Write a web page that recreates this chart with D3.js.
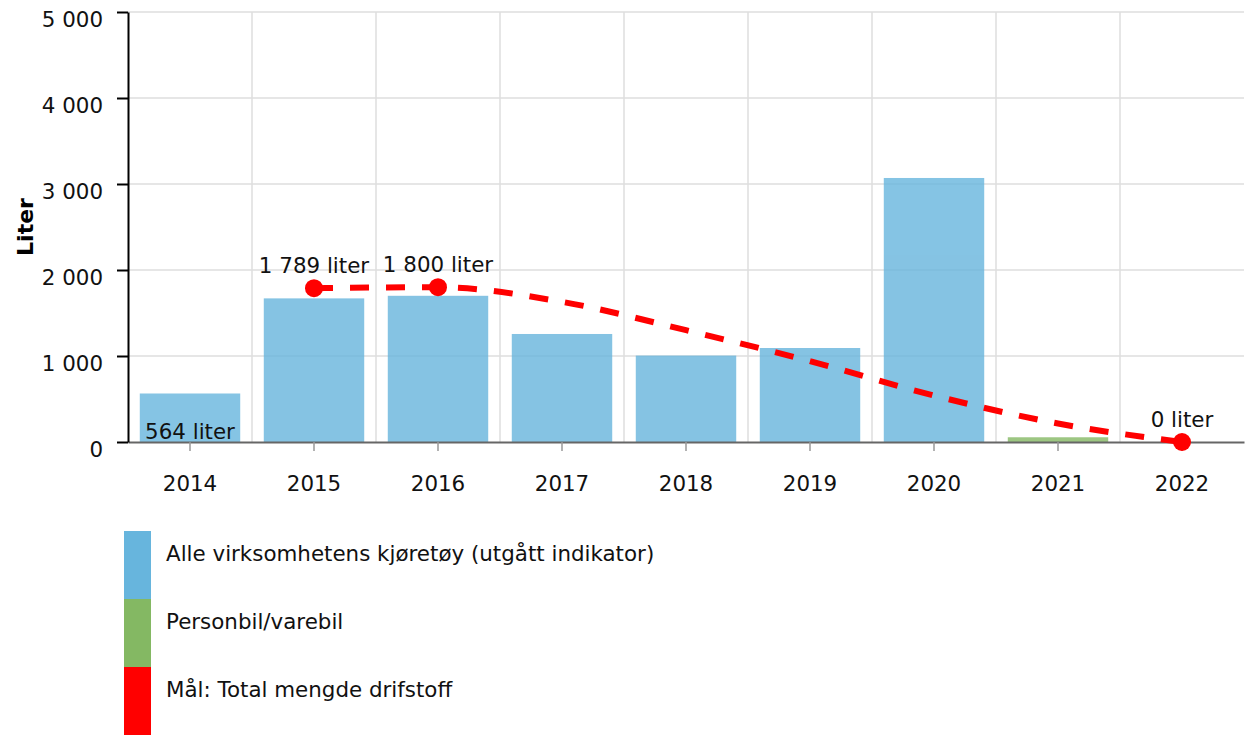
<!DOCTYPE html>
<html>
<head>
<meta charset="utf-8">
<script src="https://cdn.jsdelivr.net/npm/d3@7"></script>
<style>
    body { margin: 0; background: #fff; }
    svg { display: block; font-family: "DejaVu Sans", Verdana, sans-serif; }
</style>
</head>
<body>
<svg id="chart"></svg>
<script>
const years = ['2014', '2015', '2016', '2017', '2018', '2019', '2020', '2021', '2022'];
const allVehicles = [564, 1670, 1700, 1256, 1005, 1093, 3070, 0, 0];
const carsVans = [0, 0, 0, 0, 0, 0, 0, 55, 0];
const goal = [null, 1789, 1800, 1630, 1300, 940, 540, 215, 0];
const goalMarked = ['2015', '2016', '2022'];
const yTicks = [0, 1000, 2000, 3000, 4000, 5000];
const legendItems = [
    { name: 'Alle virksomhetens kjøretøy (utgått indikator)', color: '#67b5dd' },
    { name: 'Personbil/varebil', color: '#84b863' },
    { name: 'Mål: Total mengde drifstoff', color: '#ff0000' }
];

const width = 1247, height = 735;
const plot = { left: 128, right: 1244, top: 12, bottom: 442 };
const fontSize = 21.4;

const nb = d3.formatLocale({ decimal: ',', thousands: ' ', grouping: [3], currency: ['', ''] });
const fmt = nb.format(',d');

const x = d3.scaleBand()
    .domain(years)
    .range([plot.left, plot.right])
    .paddingInner(0.19)
    .paddingOuter(0.095);

const xBand = d3.scaleBand()
    .domain(years)
    .range([plot.left, plot.right]);

const y = d3.scaleLinear()
    .domain([0, 5000])
    .range([plot.bottom, plot.top]);

const svg = d3.select('#chart')
    .attr('width', width)
    .attr('height', height);

// Grid
svg.append('g')
    .selectAll('line')
    .data(yTicks.slice(1))
    .join('line')
    .attr('x1', plot.left).attr('x2', plot.right)
    .attr('y1', d => y(d)).attr('y2', d => y(d))
    .attr('stroke', '#dedede')
    .attr('stroke-width', 1.5);

svg.append('g')
    .selectAll('line')
    .data(years.slice(1))
    .join('line')
    .attr('x1', d => xBand(d)).attr('x2', d => xBand(d))
    .attr('y1', plot.top).attr('y2', plot.bottom)
    .attr('stroke', '#dedede')
    .attr('stroke-width', 1.5);

// Bars
const bars = svg.append('g').attr('opacity', 0.8);
bars.selectAll('.blue')
    .data(years.map((yr, i) => ({ yr, v: allVehicles[i] })).filter(d => d.v > 0))
    .join('rect')
    .attr('x', d => x(d.yr))
    .attr('width', x.bandwidth())
    .attr('y', d => y(d.v))
    .attr('height', d => y(0) - y(d.v))
    .attr('fill', legendItems[0].color);

bars.selectAll('.green')
    .data(years.map((yr, i) => ({ yr, v: carsVans[i] })).filter(d => d.v > 0))
    .join('rect')
    .attr('x', d => x(d.yr))
    .attr('width', x.bandwidth())
    .attr('y', d => y(d.v))
    .attr('height', d => y(0) - y(d.v))
    .attr('fill', legendItems[1].color);

// X axis
const xAxis = svg.append('g')
    .attr('transform', `translate(0, ${plot.bottom})`)
    .call(d3.axisBottom(xBand).tickSize(9).tickSizeOuter(0).tickPadding(30))
    .attr('font-family', null)
    .attr('font-size', null)
    .style('font-size', fontSize + 'px');
xAxis.select('.domain').attr('stroke', '#666').attr('stroke-width', 2);
xAxis.selectAll('.tick line').attr('stroke', '#999').attr('stroke-width', 1.5);
xAxis.selectAll('.tick text')
    .attr('fill', '#111')
    .attr('dy', null)
    .attr('y', 49);

// Y axis
const yAxis = svg.append('g')
    .attr('transform', `translate(${plot.left}, 0)`)
    .call(d3.axisLeft(y).tickValues(yTicks).tickFormat(fmt).tickSize(11).tickSizeOuter(0).tickPadding(14))
    .attr('font-family', null)
    .attr('font-size', null)
    .style('font-size', fontSize + 'px');
yAxis.select('.domain').attr('stroke', '#000').attr('stroke-width', 2);
yAxis.selectAll('.tick line').attr('stroke', '#000').attr('stroke-width', 2);
yAxis.selectAll('.tick text')
    .attr('fill', '#111')
    .attr('dy', null)
    .attr('y', 14);

svg.append('text')
    .attr('transform', `translate(33, ${(plot.top + plot.bottom) / 2}) rotate(-90)`)
    .attr('text-anchor', 'middle')
    .style('font-size', '22px')
    .attr('font-weight', 'bold')
    .attr('fill', '#000')
    .text('Liter');

// Goal line
const goalData = years.map((yr, i) => ({ yr, v: goal[i] })).filter(d => d.v != null);
const cx = d => xBand(d.yr) + xBand.bandwidth() / 2;

svg.append('path')
    .datum(goalData)
    .attr('fill', 'none')
    .attr('stroke', '#ff0000')
    .attr('stroke-width', 6)
    .attr('stroke-dasharray', '19 17')
    .attr('d', d3.line().x(cx).y(d => y(d.v)).curve(d3.curveMonotoneX));

const marked = goalData.filter(d => goalMarked.includes(d.yr));
svg.append('g')
    .selectAll('circle')
    .data(marked)
    .join('circle')
    .attr('cx', cx)
    .attr('cy', d => y(d.v))
    .attr('r', 9)
    .attr('fill', '#ff0000');

svg.append('g')
    .selectAll('text')
    .data(marked)
    .join('text')
    .attr('x', cx)
    .attr('y', d => y(d.v) - 15)
    .attr('text-anchor', 'middle')
    .style('font-size', fontSize + 'px')
    .attr('fill', '#111')
    .text(d => fmt(d.v) + ' liter');

// Label on the first bar
svg.append('text')
    .attr('x', x(years[0]) + x.bandwidth() / 2)
    .attr('y', y(0) - 3)
    .attr('text-anchor', 'middle')
    .style('font-size', fontSize + 'px')
    .attr('fill', '#111')
    .text(fmt(allVehicles[0]) + ' liter');

// Legend
const legend = svg.append('g')
    .selectAll('g')
    .data(legendItems)
    .join('g')
    .attr('transform', (d, i) => `translate(124, ${531 + i * 68})`);

legend.append('rect')
    .attr('width', 27)
    .attr('height', 68)
    .attr('fill', d => d.color);

legend.append('text')
    .attr('x', 42)
    .attr('y', 30)
    .style('font-size', fontSize + 'px')
    .attr('fill', '#111')
    .text(d => d.name);
</script>
</body>
</html>
